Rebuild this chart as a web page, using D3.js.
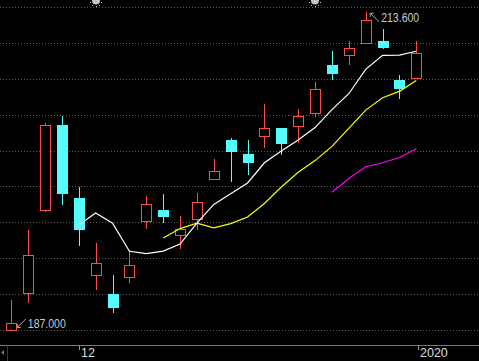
<!DOCTYPE html>
<html><head><meta charset="utf-8">
<script src="https://cdn.jsdelivr.net/npm/d3@7"></script>
<style>html,body{margin:0;padding:0;background:#000;overflow:hidden}</style>
</head><body>
<script>
// ---- data ----
const dates = ["2019-11-26","2019-11-27","2019-11-28","2019-11-29","2019-12-02","2019-12-03","2019-12-04","2019-12-05","2019-12-06","2019-12-09","2019-12-10","2019-12-11","2019-12-12","2019-12-13","2019-12-16","2019-12-17","2019-12-18","2019-12-19","2019-12-20","2019-12-23","2019-12-24","2019-12-27","2019-12-30","2019-12-31","2020-01-02"];
const opens  = [187.00,190.07,197.06,204.14,198.03,191.62,190.01,191.41,196.09,197.03,194.97,196.25,199.65,202.88,201.74,203.24,203.91,204.03,205.11,209.15,209.96,211.02,211.16,207.90,208.09];
const highs  = [189.51,195.36,204.30,204.89,198.95,194.25,191.60,193.69,198.20,198.37,196.53,198.45,201.29,203.05,202.88,205.89,203.91,205.47,207.73,210.32,211.16,213.60,212.14,208.32,211.16];
const lows   = [187.00,189.28,196.89,197.47,194.02,190.34,188.45,190.90,195.42,195.97,193.75,195.38,199.65,199.37,199.96,202.24,201.63,202.66,204.83,207.90,209.13,210.88,210.49,206.28,208.09];
const closes = [187.59,193.24,204.14,198.48,195.47,192.58,188.95,192.43,197.51,196.55,195.44,197.70,200.29,201.96,201.04,203.91,202.66,204.86,207.15,208.51,210.55,212.89,210.68,207.25,210.13];
const ma5  = [195.78,196.78,195.92,193.58,193.39,193.60,194.18,195.93,197.50,198.39,199.29,200.98,201.97,202.89,203.92,205.42,206.75,208.79,209.96,209.98,210.30];
const ma10 = [194.69,195.48,195.93,195.54,195.89,196.45,197.58,198.95,200.19,201.16,202.35,203.86,205.38,206.42,206.95,207.86];
const ma20 = [198.52,199.67,200.65,200.98,201.42,202.15];
const gridValues = [187,190,193,196,199,202,205,208,211,214];
const tickDates = ["2019-12-02","2020-01-02"];
const tickTexts = ["12","2020"];
const markerDates = ["2019-12-03","2019-12-20"];

// ---- layout ----
const W = 479, H = 361;
const RED = "#ff4d4d", CYAN = "#54fcfc";
const svg = d3.select("body").append("svg").attr("width", W).attr("height", H)
  .style("background", "#000").style("display","block");

const x = d3.scalePoint().domain(dates).range([11.3, 416.3]);
const y = d3.scaleLinear().domain([187, 214]).range([330, 7]);
const px = v => Math.round(v) + 0.5;

// grid
svg.append("g").selectAll("line").data(gridValues).join("line")
  .attr("x1", 0).attr("x2", W)
  .attr("y1", d => px(y(d))).attr("y2", d => px(y(d)))
  .attr("stroke", "#5a5a5a").attr("stroke-dasharray", "1,2");

// bottom axis
const axisY = 345.5;
svg.append("line").attr("x1", 0).attr("x2", W).attr("y1", axisY).attr("y2", axisY)
  .attr("stroke", "#7a7a7a");
svg.append("line").attr("x1", 7.5).attr("x2", 7.5).attr("y1", axisY).attr("y2", H)
  .attr("stroke", "#3a3a3a");
svg.append("path").attr("d", "M1,352.5 L4,350 L4,355 Z").attr("fill", "#777");

const tg = svg.append("g");
tickDates.forEach((d, i) => {
  const tx = px(x(d)) + (i === 1 ? 2 : 0);
  tg.append("line").attr("x1", tx).attr("x2", tx).attr("y1", axisY).attr("y2", 350)
    .attr("stroke", "#9a9a9a");
  tg.append("text").attr("x", tx + 1.5).attr("y", 357)
    .attr("fill", "#d8dce0").attr("font-family", "'Liberation Sans', Arial, sans-serif")
    .attr("font-size", "12.5px").text(tickTexts[i]);
});

// markers at top
markerDates.forEach(d => {
  const mx = Math.round(x(d));
  const g = svg.append("g").attr("fill", "#c4c4c4");
  g.append("circle").attr("cx", mx).attr("cy", 0.5).attr("r", 4);
  [[-4,5],[0,6],[3,5],[-6,2],[5,2]].forEach(p =>
    g.append("rect").attr("x", mx + p[0]).attr("y", p[1]).attr("width", 1).attr("height", 1));
});

// candles
const idx = d3.range(dates.length);
const cg = svg.append("g");
idx.forEach(i => {
  const xc = x(dates[i]);
  const up = closes[i] >= opens[i];
  const col = up ? RED : CYAN;
  cg.append("line").attr("x1", px(xc)).attr("x2", px(xc))
    .attr("y1", y(highs[i])).attr("y2", y(lows[i])).attr("stroke", col)
    .attr("shape-rendering", "crispEdges");
  const top = y(Math.max(opens[i], closes[i])), bot = y(Math.min(opens[i], closes[i]));
  if (up) {
    cg.append("rect").attr("x", Math.round(xc - 5) + 0.5).attr("y", Math.round(top) + 0.5)
      .attr("width", 10).attr("height", Math.max(1, Math.round(bot) - Math.round(top)))
      .attr("fill", "#000").attr("stroke", col).attr("shape-rendering", "crispEdges");
  } else {
    cg.append("rect").attr("x", Math.round(xc - 5)).attr("y", Math.round(top))
      .attr("width", 11).attr("height", Math.max(1, Math.round(bot) - Math.round(top) + 1))
      .attr("fill", col).attr("shape-rendering", "crispEdges");
  }
});

// moving averages
const line = d3.line().x(d => x(d.date)).y(d => y(d.v));
const mk = (arr) => arr.map((v, k) => ({ date: dates[dates.length - arr.length + k], v }));
[[ma5, "#ffffff"], [ma10, "#ffff00"], [ma20, "#ff00ff"]].forEach(([arr, c]) => {
  svg.append("path").datum(mk(arr)).attr("d", line)
    .attr("fill", "none").attr("stroke", c).attr("stroke-width", 1.2);
});

// annotations
const font = "'Liberation Sans', Arial, sans-serif";
const iMin = d3.minIndex(lows), iMax = d3.maxIndex(highs);
{
  const xc = x(dates[iMin]), yl = y(lows[iMin]);
  const tip = [xc + 6, yl - 2.5], tail = [xc + 14.5, yl - 11];
  const a = svg.append("g").attr("stroke", "#a8a8a8").attr("fill", "none");
  a.append("line").attr("x1", tip[0]).attr("y1", tip[1]).attr("x2", tail[0]).attr("y2", tail[1]);
  a.append("path").attr("d", `M${tip[0]},${tip[1]-3.5} L${tip[0]},${tip[1]} L${tip[0]+3.5},${tip[1]}`);
  svg.append("text").attr("x", xc + 16.5).attr("y", yl - 2.5).attr("fill", "#c4ccd4")
    .attr("font-family", font).attr("font-size", "12px")
    .attr("textLength", 38).attr("lengthAdjust", "spacingAndGlyphs")
    .text(d3.format(".3f")(lows[iMin]));
}
{
  const xc = x(dates[iMax]), yh = y(highs[iMax]);
  const tip = [xc + 4.5, yh + 1.5], tail = [xc + 13.5, yh + 10];
  const a = svg.append("g").attr("stroke", "#a8a8a8").attr("fill", "none");
  a.append("line").attr("x1", tip[0]).attr("y1", tip[1]).attr("x2", tail[0]).attr("y2", tail[1]);
  a.append("path").attr("d", `M${tip[0]},${tip[1]+3.5} L${tip[0]},${tip[1]} L${tip[0]+3.5},${tip[1]}`);
  svg.append("text").attr("x", xc + 15.5).attr("y", yh + 10.2).attr("fill", "#c4ccd4")
    .attr("font-family", font).attr("font-size", "12px")
    .attr("textLength", 38).attr("lengthAdjust", "spacingAndGlyphs")
    .text(d3.format(".3f")(highs[iMax]));
}
</script>
</body></html>
